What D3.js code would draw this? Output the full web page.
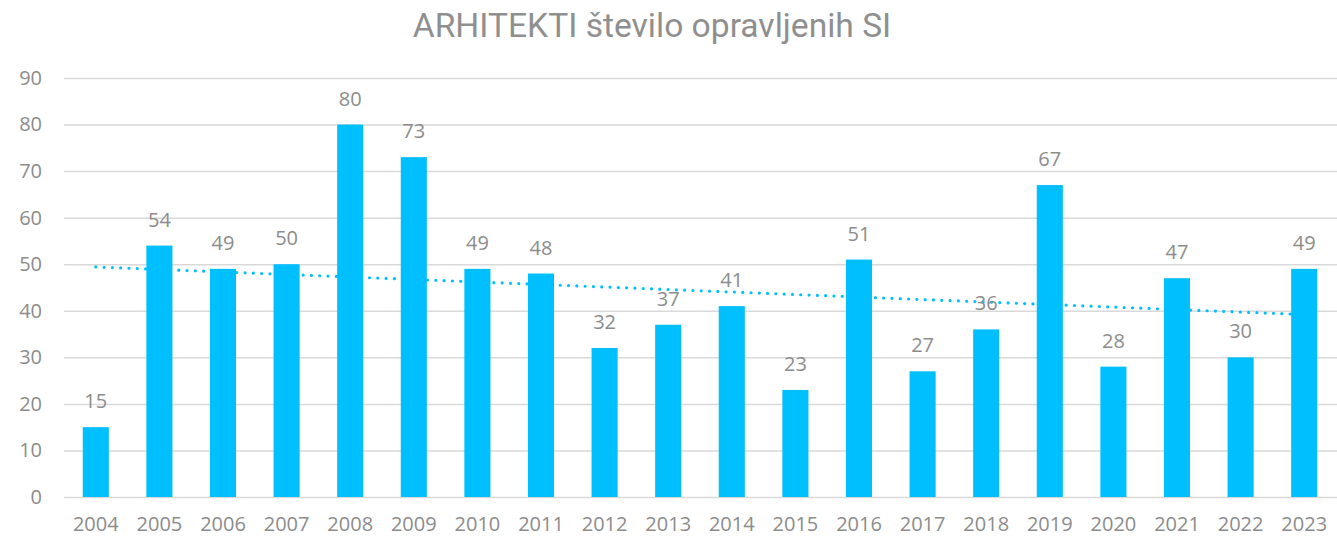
<!DOCTYPE html>
<html>
<head>
<meta charset="utf-8">
<script src="https://cdn.jsdelivr.net/npm/d3@7"></script>
<style>
  body { margin: 0; background: #fff; }
  text { font-family: "Open Sans", sans-serif; }
</style>
</head>
<body>
<div id="chart"></div>
<script>
// data
var years = ["2004", "2005", "2006", "2007", "2008", "2009", "2010", "2011", "2012", "2013",
             "2014", "2015", "2016", "2017", "2018", "2019", "2020", "2021", "2022", "2023"];
var counts = [15, 54, 49, 50, 80, 73, 49, 48, 32, 37, 41, 23, 51, 27, 36, 67, 28, 47, 30, 49];
var yTicks = [0, 10, 20, 30, 40, 50, 60, 70, 80, 90];

var w = 1337;
var h = 541;
var plotLeft = 64, plotRight = 1336, plotTop = 78, plotBottom = 497;
var barColor = "#00BFFF";
var textColor = "#8c8c8c";

var svg = d3.select("#chart")
            .append("svg")
            .attr("width", w)
            .attr("height", h);

var xScale = d3.scaleBand()
               .domain(years)
               .range([plotLeft, plotRight])
               .paddingInner(0.59)
               .paddingOuter(0.295);

var yScale = d3.scaleLinear()
               .domain([0, 90])
               .range([plotBottom, plotTop]);

// title
svg.append("text")
   .attr("x", 652)
   .attr("y", 37)
   .attr("text-anchor", "middle")
   .style("font-family", "Roboto, sans-serif")
   .style("font-size", "33.6px")
   .attr("fill", "#8f8f8f")
   .text("ARHITEKTI število opravljenih SI");

// gridlines + y labels
var yAxis = d3.axisLeft(yScale)
              .tickValues(yTicks)
              .tickSize(-(w - plotLeft))
              .tickPadding(22);

var gy = svg.append("g")
            .attr("transform", "translate(" + plotLeft + ",0)")
            .call(yAxis);
gy.select(".domain").remove();
gy.selectAll(".tick line").attr("stroke", "#d9d9d9").attr("stroke-width", 1.5);
gy.selectAll(".tick text")
  .attr("fill", textColor)
  .style("font-size", "20px")
  .style("font-family", "'Open Sans', sans-serif");

// x labels
var xAxis = d3.axisBottom(xScale).tickSize(0).tickPadding(20);
var gx = svg.append("g")
            .attr("transform", "translate(0," + plotBottom + ")")
            .call(xAxis);
gx.select(".domain").remove();
gx.selectAll(".tick text")
  .attr("fill", textColor)
  .style("font-size", "20px")
  .style("font-family", "'Open Sans', sans-serif");

// linear trend line (least squares over the data)
var n = counts.length;
var xs = d3.range(n);
var mx = d3.mean(xs), my = d3.mean(counts);
var slope = d3.sum(xs, function(i) { return (i - mx) * (counts[i] - my); }) /
            d3.sum(xs, function(i) { return (i - mx) * (i - mx); });
var icpt = my - slope * mx;
var trend = [0, n - 1].map(function(i) { return { year: years[i], v: icpt + slope * i }; });

var line = d3.line()
             .x(function(d) { return xScale(d.year) + xScale.bandwidth() / 2; })
             .y(function(d) { return yScale(d.v); });

svg.append("path")
   .datum(trend)
   .attr("d", line)
   .attr("fill", "none")
   .attr("stroke", barColor)
   .attr("stroke-width", 3.2)
   .attr("stroke-linecap", "round")
   .attr("stroke-dasharray", "0,8.3");

// bars
svg.selectAll("rect.bar")
   .data(counts)
   .enter()
   .append("rect")
   .attr("class", "bar")
   .attr("x", function(d, i) { return xScale(years[i]); })
   .attr("y", function(d) { return yScale(d); })
   .attr("width", xScale.bandwidth())
   .attr("height", function(d) { return yScale(0) - yScale(d); })
   .attr("fill", barColor);

// value labels
svg.selectAll("text.val")
   .data(counts)
   .enter()
   .append("text")
   .attr("class", "val")
   .attr("x", function(d, i) { return xScale(years[i]) + xScale.bandwidth() / 2; })
   .attr("y", function(d) { return yScale(d) - 19; })
   .attr("text-anchor", "middle")
   .attr("fill", textColor)
   .style("font-size", "20px")
   .text(function(d) { return d; });
</script>
</body>
</html>
